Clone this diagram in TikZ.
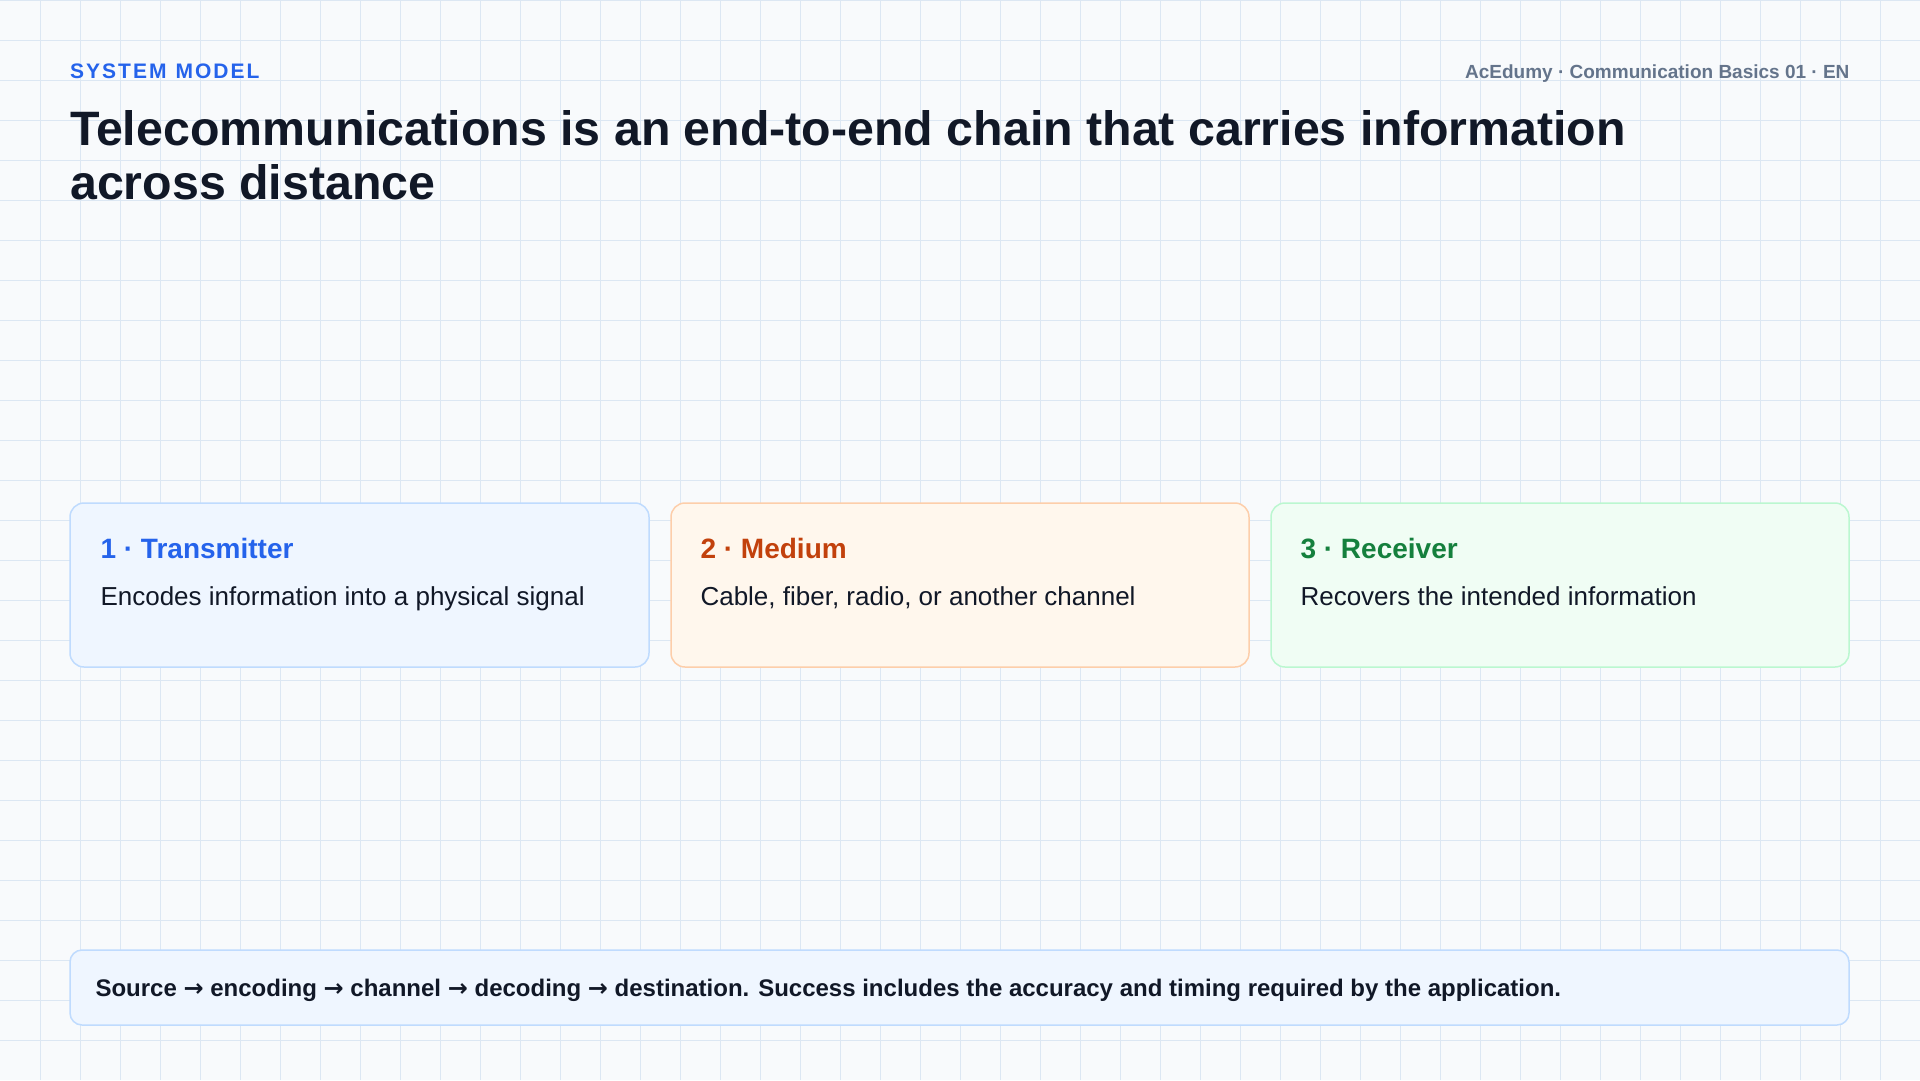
\documentclass[tikz,border=0pt]{standalone}
\usepackage{fontspec}
\setmainfont{Liberation Sans}
\newfontfamily\arr{DejaVu Sans}
\definecolor{bg}{HTML}{F8FAFC}
\definecolor{gridc}{HTML}{DCE7F3}
\definecolor{ink}{HTML}{111827}
\definecolor{gray1}{HTML}{64748B}
\definecolor{blue1}{HTML}{2563EB}
\definecolor{org1}{HTML}{C2410C}
\definecolor{grn1}{HTML}{15803D}
\definecolor{bfill}{HTML}{EFF6FF}
\definecolor{bline}{HTML}{BFDBFE}
\definecolor{ofill}{HTML}{FFF7ED}
\definecolor{oline}{HTML}{FDCEAA}
\definecolor{gfill}{HTML}{F0FDF4}
\definecolor{gline}{HTML}{BBF7D0}
\begin{document}
\begin{tikzpicture}[x=1pt,y=-1pt,
  card/.style 2 args={draw=#1, fill=#2, line width=1.5pt, rounded corners=14pt},
  ttl/.style={anchor=base west, font=\fontsize{28}{32}\selectfont\bfseries},
  body/.style={anchor=base west, text=ink, font=\fontsize{26}{30}\selectfont}]
\fill[bg] (0,0) rectangle (1920,1080);
\useasboundingbox (0,0) rectangle (1920,1080);
\foreach \i in {40,80,...,1900} \draw[gridc, line width=1pt] (\i,0) -- (\i,1080);
\foreach \i in {0,40,...,1060} \draw[gridc, line width=1pt] (0,\i) -- (1920,\i);
\node[anchor=base west, text=blue1, font=\fontsize{21}{24}\selectfont\bfseries, inner sep=0] (tag) at (70,78) {S\kern2pt Y\kern2pt S\kern2pt T\kern2pt E\kern2pt M\kern9pt M\kern2pt O\kern2pt D\kern2pt E\kern2pt L};
\node[anchor=base east, text=gray1, font=\fontsize{19}{22}\selectfont\bfseries] (hdr) at (1853,78) {AcEdumy · Communication Basics 01 · EN};
\node[anchor=base west, text=ink, font=\fontsize{48.3}{54}\selectfont\bfseries, inner sep=0] (t1) at (70,145) {Telecommunications is an end-to-end chain that carries information};
\node[anchor=base west, text=ink, font=\fontsize{48.3}{54}\selectfont\bfseries, inner sep=0] (t2) at (70,199) {across distance};
\path[card={bline}{bfill}] (70,503) rectangle (649,667);
\path[card={oline}{ofill}] (671,503) rectangle (1249,667);
\path[card={gline}{gfill}] (1271,503) rectangle (1849,667);
\node[ttl, text=blue1] (c1) at (97,558) {1 · Transmitter};
\node[body] (b1) at (97,605) {Encodes information into a physical signal};
\node[ttl, text=org1] (c2) at (697,558) {2 · Medium};
\node[body] (b2) at (697,605) {Cable, fiber, radio, or another channel};
\node[ttl, text=grn1] (c3) at (1297,558) {3 · Receiver};
\node[body] (b3) at (1297,605) {Recovers the intended information};
\path[card={bline}{bfill}, rounded corners=12pt] (70,950) rectangle (1849,1025);
\node[anchor=base west, text=ink, font=\fontsize{24}{28}\selectfont\bfseries] (foot) at (92,996) {Source {\arr\bfseries→} encoding {\arr\bfseries→} channel {\arr\bfseries→} decoding {\arr\bfseries→} destination. Success includes the accuracy and timing required by the application.};
\end{tikzpicture}
\end{document}
